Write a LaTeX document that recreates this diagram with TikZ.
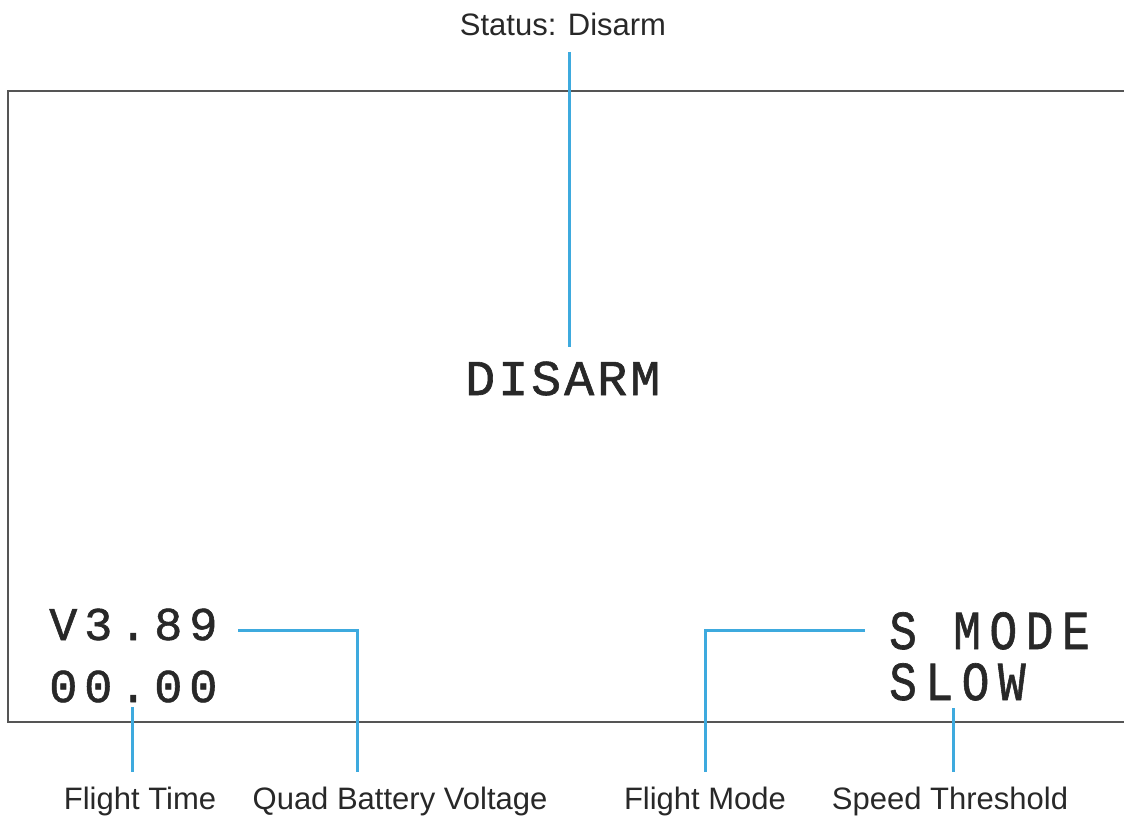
\documentclass[tikz,border=0pt]{standalone}
\usepackage{fontspec}
\setmainfont{Liberation Sans}
\newfontfamily\lcdfont[FakeBold=1.2]{Liberation Mono}
\definecolor{callout}{RGB}{62,170,222}
\definecolor{frame}{RGB}{85,85,85}
\definecolor{ink}{RGB}{40,40,40}
\tikzset{
  lbl/.style={inner sep=0pt, anchor=base, text=ink, font=\fontsize{31}{31}\selectfont},
  lcd/.style={inner sep=0pt, anchor=base west, text=ink},
  lead/.style={draw=callout, line width=3pt},
  box/.style={draw=frame, line width=2pt}
}
\begin{document}
\begin{tikzpicture}[x=1pt,y=-1pt]
\useasboundingbox (0,0) rectangle (1124,818);
% screen frame (open at the right)
\draw[box] (1124,91) -- (8,91) -- (8,722) -- (1124,722);
% texts
\node[lbl] (status) at (563,36) {Status: Disarm};
\node[lcd, font={\lcdfont\addfontfeature{LetterSpace=6}\fontsize{50}{50}\selectfont}] (disarm) at (465,395) {DISARM};
\node[lcd, font={\lcdfont\addfontfeature{LetterSpace=14.5}\fontsize{47}{47}\selectfont}] (volt) at (49,640) {V3.89};
\node[lcd, font={\lcdfont\addfontfeature{LetterSpace=14.5}\fontsize{47}{47}\selectfont}] (time) at (49,702) {00.00};
\node[lcd, font={\lcdfont\addfontfeature{LetterSpace=18.5}\fontsize{55}{55}\selectfont}] (mode) at (889,649) {\scalebox{0.84}[1]{S MODE}};
\node[lcd, font={\lcdfont\addfontfeature{LetterSpace=18.5}\fontsize{55}{55}\selectfont}] (speed) at (889,700) {\scalebox{0.84}[1]{SLOW}};
\node[lbl] (ftime) at (140,809) {Flight Time};
\node[lbl] (qbv) at (400,809) {Quad Battery Voltage};
\node[lbl] (fmode) at (705,809) {Flight Mode};
\node[lbl] (sthr) at (950,809) {Speed Threshold};
% callout end points
\coordinate (s1) at (569,52);
\coordinate (s2) at (569,347);
\coordinate (v1) at (238,630);
\coordinate (v2) at (357,772);
\coordinate (t1) at (132,707);
\coordinate (t2) at (132,772);
\coordinate (m1) at (865,630);
\coordinate (m2) at (705,772);
\coordinate (p1) at (953,708);
\coordinate (p2) at (953,772);
% callouts
\draw[lead] (s1) -- (s2);
\draw[lead] (v1) -| (v2);
\draw[lead] (t1) -- (t2);
\draw[lead] (m1) -| (m2);
\draw[lead] (p1) -- (p2);
\end{tikzpicture}
\end{document}
